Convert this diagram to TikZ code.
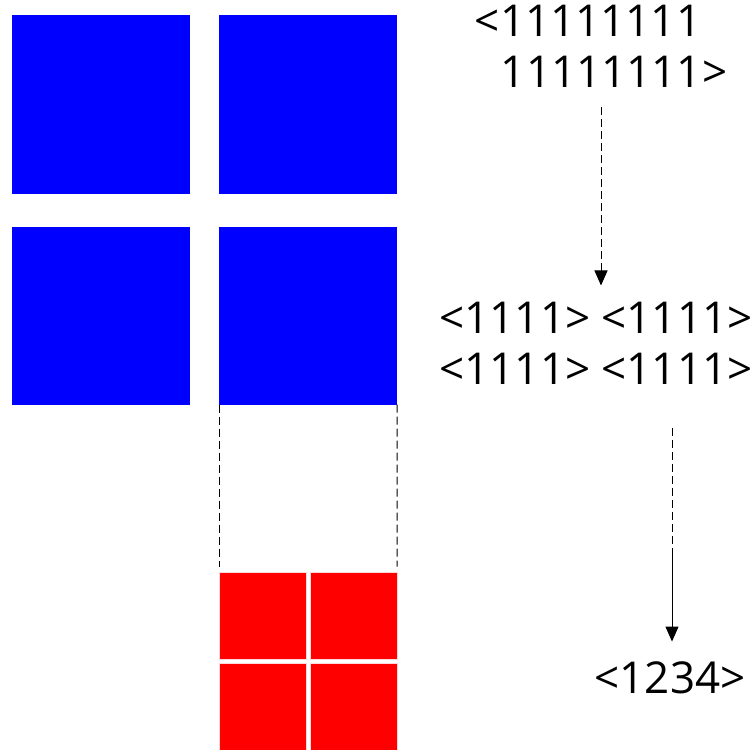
\documentclass[tikz,border=0pt]{standalone}
\usepackage{fontspec}
\setmainfont{Open Sans}
\usetikzlibrary{arrows.meta, positioning}

\begin{document}
\begin{tikzpicture}[
    x=0.2mm, y=-0.2mm,
    node distance=0.66cm and 0.58cm,
    bigsq/.style={rectangle, fill=blue, minimum size=3.56cm, inner sep=0pt, outer sep=0pt},
    smallsq/.style={rectangle, fill=red, draw=white!85!red, line width=0.2pt, minimum size=1.74cm, inner sep=0pt, outer sep=0pt},
    code/.style={align=left, inner sep=0pt, font=\fontsize{25}{29}\selectfont},
    arr/.style={-{Triangle[length=3mm, width=2.6mm]}, line width=0.2mm, color=black},
    guide/.style={line width=0.2mm, dash pattern=on 1.6mm off 0.8mm}
]
\useasboundingbox[fill=white] (0,0) rectangle (750,750);

% Blue blocks
\node[bigsq] (b1) at (101,104.5) {};
\node[bigsq, right=of b1] (b2) {};
\node[bigsq, below=of b1] (b3) {};
\node[bigsq, below=of b2] (b4) {};

% Red blocks
\node[smallsq, below=3.36cm of b4.south west, anchor=north west] (r1) {};
\node[smallsq, right=0.08cm of r1] (r2) {};
\node[smallsq, below=0.08cm of r1] (r3) {};
\node[smallsq, right=0.08cm of r3] (r4) {};

% Codes
\node[code] (t1) at (601,46.5) {<11111111\\\hspace*{5.2mm}11111111>};
\node[code] (t2) at (596,343) {<1111> <1111>\\<1111> <1111>};
\node[code] (t3) at (670,678) {<1234>};
\coordinate (split) at (672,555);

% Connections
\draw[guide] (b4.south west) -- ([yshift=1.2mm]r1.north west);
\draw[guide] (b4.south east) -- ([yshift=1.2mm]r2.north east);
\draw[arr, dash pattern=on 1.6mm off 0.8mm, shorten <=3.8mm, shorten >=3.2mm] (t1.south) -- (t1.south |- t2.north);
\draw[guide, shorten <=8.6mm] (t2.south -| split) -- (split);
\draw[arr, shorten >=4mm] (split) -- (split |- t3.north);

\end{tikzpicture}
\end{document}
